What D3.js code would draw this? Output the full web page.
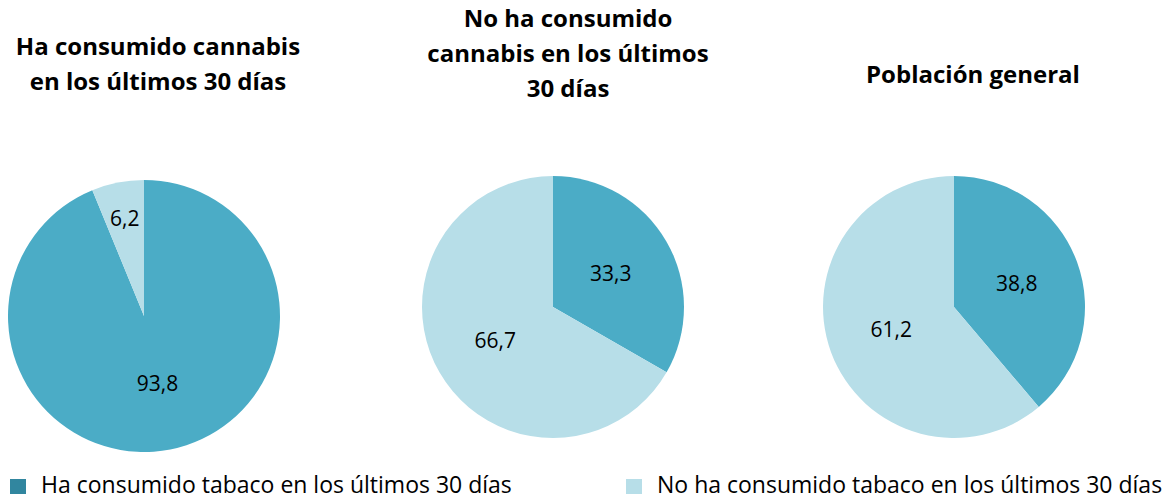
<!DOCTYPE html>
<html>
<head>
<meta charset="utf-8">
<script src="https://cdn.jsdelivr.net/npm/d3@7"></script>
<style>
  body { margin: 0; background: #fff; }
  text { font-family: "Open Sans", sans-serif; fill: #000; }
</style>
</head>
<body>
<div id="chart"></div>
<script>
// Data: share of people who smoked tobacco in the last 30 days, per group
var groups = ["Ha consumido cannabis en los últimos 30 días",
              "No ha consumido cannabis en los últimos 30 días",
              "Población general"];
var titleLines = [["Ha consumido cannabis", "en los últimos 30 días"],
                  ["No ha consumido", "cannabis en los últimos", "30 días"],
                  ["Población general"]];
var categories = ["Ha consumido tabaco en los últimos 30 días",
                  "No ha consumido tabaco en los últimos 30 días"];
var smoked    = [93.8, 33.3, 38.8];
var notSmoked = [6.2, 66.7, 61.2];

var colors = ["#4bacc6", "#b7dee8"];
var legendColors = ["#31869f", "#b7dee8"];

var width = 1176, height = 499;

// layout of the three pies
var pieLayout = [
  {cx: 144, cy: 316, r: 136, tx: 158, ty: [47, 82]},
  {cx: 553, cy: 307, r: 131, tx: 568, ty: [19, 54, 89]},
  {cx: 954, cy: 307, r: 131, tx: 973, ty: [75]}
];

var svg = d3.select("#chart").append("svg")
  .attr("width", width)
  .attr("height", height);

var pie = d3.pie().sort(null).value(function(d) { return d; });

groups.forEach(function(g, i) {
  var L = pieLayout[i];
  var values = [smoked[i], notSmoked[i]];
  var arc = d3.arc().innerRadius(0).outerRadius(L.r);

  var gp = svg.append("g")
    .attr("transform", "translate(" + L.cx + "," + L.cy + ")");

  var slices = pie(values);

  gp.selectAll("path")
    .data(slices)
    .enter().append("path")
    .attr("d", arc)
    .style("fill", function(d, j) { return colors[j]; });

  // labels: small slices pushed further out
  gp.selectAll("text.lbl")
    .data(slices)
    .enter().append("text")
    .attr("class", "lbl")
    .attr("transform", function(d) {
      var share = (d.endAngle - d.startAngle) / (2 * Math.PI);
      var k = share < 0.1 ? 0.73 : 0.51;
      var a = (d.startAngle + d.endAngle) / 2;
      return "translate(" + (Math.sin(a) * L.r * k) + "," + (-Math.cos(a) * L.r * k) + ")";
    })
    .attr("text-anchor", "middle")
    .attr("dy", "0.35em")
    .style("font-size", "21px")
    .text(function(d) { return d3.format(".1f")(d.data).replace(".", ","); });

  // title
  var t = svg.append("text")
    .attr("text-anchor", "middle")
    .style("font-size", "24px")
    .style("font-weight", "bold");
  titleLines[i].forEach(function(line, j) {
    t.append("tspan")
      .attr("x", L.tx)
      .attr("y", L.ty[j])
      .attr("dy", "0.35em")
      .text(line);
  });
});

// legend
var legendX = [10, 626];
var legend = svg.selectAll(".legend")
  .data(categories)
  .enter().append("g")
  .attr("class", "legend")
  .attr("transform", function(d, i) { return "translate(" + legendX[i] + ",494)"; });

legend.append("rect")
  .attr("x", 0)
  .attr("y", -15)
  .attr("width", 16)
  .attr("height", 15)
  .style("fill", function(d, i) { return legendColors[i]; });

legend.append("text")
  .attr("x", 31)
  .attr("y", -1.5)
  .style("font-size", "23px")
  .text(function(d) { return d; });
</script>
</body>
</html>
